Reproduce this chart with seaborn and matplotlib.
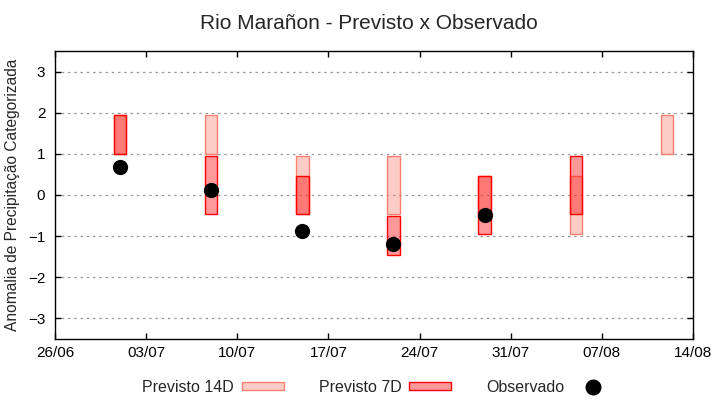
import pandas as pd
import numpy as np
import matplotlib
matplotlib.use('Agg')
import matplotlib.pyplot as plt
import matplotlib.dates as mdates
from matplotlib.patches import Patch
from matplotlib.lines import Line2D
import seaborn as sns

# semanas previstas
datas = ['2024-07-01', '2024-07-08', '2024-07-15', '2024-07-22',
         '2024-07-29', '2024-08-05', '2024-08-12']
# previsto 14 dias (faixa)
prev14_ini = [1.0, 1.0, -0.45, -0.45, -0.45, -0.95, 1.0]
prev14_fim = [1.95, 1.95, 0.95, 0.95, 0.45, 0.45, 1.95]
# previsto 7 dias (faixa)
prev7_ini = [1.0, -0.45, -0.45, -1.45, -0.95, -0.45, np.nan]
prev7_fim = [1.95, 0.95, 0.45, -0.52, 0.45, 0.95, np.nan]
# observado
obs = [0.68, 0.12, -0.87, -1.20, -0.48, np.nan, np.nan]

xticks = ['2024-06-26', '2024-07-03', '2024-07-10', '2024-07-17',
          '2024-07-24', '2024-07-31', '2024-08-07', '2024-08-14']
yticks = [-3, -2, -1, 0, 1, 2, 3]

df = pd.DataFrame({'data': pd.to_datetime(datas),
                   'p14_ini': prev14_ini, 'p14_fim': prev14_fim,
                   'p7_ini': prev7_ini, 'p7_fim': prev7_fim,
                   'obs': obs})

sns.set_theme(style='white')
plt.rcParams['font.family'] = ['Liberation Sans', 'DejaVu Sans']

cor14 = (250/255, 128/255, 114/255)
fig = plt.figure(figsize=(7.2, 4), dpi=100)
ax = fig.add_axes([0.0764, 0.1525, 0.886, 0.72])

ax.bar(df['data'], df['p14_fim'] - df['p14_ini'], bottom=df['p14_ini'], width=0.95,
       facecolor=cor14 + (0.4,), edgecolor=cor14, linewidth=1.0, zorder=2)
ax.bar(df['data'], df['p7_fim'] - df['p7_ini'], bottom=df['p7_ini'], width=0.95,
       facecolor=(1, 0, 0, 0.4), edgecolor='red', linewidth=1.0, zorder=3)
sns.scatterplot(data=df, x='data', y='obs', ax=ax, color='black', s=120,
                edgecolor='black', linewidth=0, zorder=4, legend=False)

ax.set_xlim(pd.Timestamp(xticks[0]), pd.Timestamp(xticks[-1]))
ax.set_ylim(-3.5, 3.5)
ax.set_xticks(pd.to_datetime(xticks))
ax.xaxis.set_major_formatter(mdates.DateFormatter('%d/%m'))
ax.set_yticks(yticks)
ax.yaxis.grid(True, linestyle=(0, (2, 3)), color='#999999', linewidth=0.9)
ax.set_axisbelow(True)
ax.tick_params(direction='in', length=4.5, width=1, labelsize=11, colors='black',
               top=True, right=True, bottom=True, left=True)
ax.tick_params(axis='y', pad=7)
ax.tick_params(axis='x', pad=5)
for s in ax.spines.values():
    s.set_color('black')
    s.set_linewidth(1.0)

ax.set_xlabel('')
ax.set_ylabel('Anomalia de Precipitação Categorizada', fontsize=11.2, labelpad=6)
ax.set_title('Rio Marañon - Previsto x Observado', fontsize=15, pad=16, x=0.492)

handles = [Patch(facecolor=cor14 + (0.4,), edgecolor=cor14, label='Previsto 14D'),
           Patch(facecolor=(1, 0, 0, 0.4), edgecolor='red', label='Previsto 7D'),
           Line2D([], [], marker='o', color='black', linestyle='none',
                  markersize=10.5, label='Observado')]
fig.legend(handles=handles, loc='center', bbox_to_anchor=(0.525, 0.032), ncol=3,
           frameon=False, markerfirst=False, fontsize=11.5, handlelength=2.6,
           handleheight=0.45, handletextpad=0.5, columnspacing=2.2)

fig.savefig('out.png', dpi=100)
